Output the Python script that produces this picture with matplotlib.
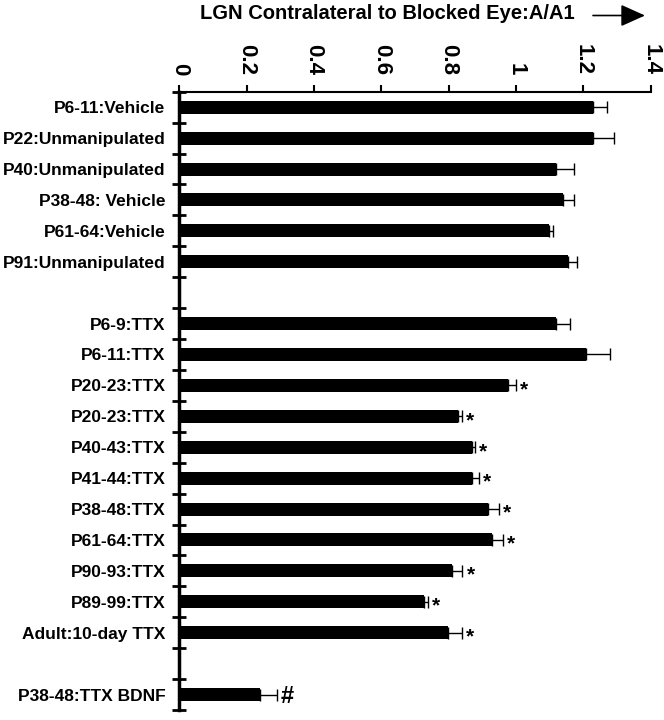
import numpy as np
import matplotlib
matplotlib.use('Agg')
import matplotlib.pyplot as plt
from matplotlib.ticker import FixedLocator

plt.rcParams['font.family'] = ['Liberation Sans', 'DejaVu Sans']
plt.rcParams['font.weight'] = 'bold'

# control groups
vehicle_labels = ['P6-11:Vehicle', 'P22:Unmanipulated', 'P40:Unmanipulated',
                  'P38-48: Vehicle', 'P61-64:Vehicle', 'P91:Unmanipulated']
vehicle_means = [1.228, 1.228, 1.118, 1.139, 1.099, 1.153]
vehicle_err = [0.042, 0.062, 0.053, 0.032, 0.010, 0.028]
vehicle_marks = ['', '', '', '', '', '']

# TTX groups
ttx_labels = ['P6-9:TTX', 'P6-11:TTX', 'P20-23:TTX', 'P20-23:TTX', 'P40-43:TTX',
              'P41-44:TTX', 'P38-48:TTX', 'P61-64:TTX', 'P90-93:TTX',
              'P89-99:TTX', 'Adult:10-day TTX']
ttx_means = [1.118, 1.208, 0.977, 0.829, 0.869, 0.869, 0.918, 0.930, 0.809, 0.728, 0.799]
ttx_err = [0.041, 0.072, 0.023, 0.011, 0.009, 0.021, 0.032, 0.031, 0.032, 0.010, 0.041]
ttx_marks = ['', '', '*', '*', '*', '*', '*', '*', '*', '*', '*']

# BDNF group
bdnf_labels = ['P38-48:TTX BDNF']
bdnf_means = [0.240]
bdnf_err = [0.049]
bdnf_marks = ['#']

xticks = [0, 0.2, 0.4, 0.6, 0.8, 1, 1.2, 1.4]
xtick_labels = ['0', '0.2', '0.4', '0.6', '0.8', '1', '1.2', '1.4']
title = 'LGN Contralateral to Blocked Eye:A/A1'

groups = [(vehicle_labels, vehicle_means, vehicle_err, vehicle_marks),
          (ttx_labels, ttx_means, ttx_err, ttx_marks),
          (bdnf_labels, bdnf_means, bdnf_err, bdnf_marks)]

# slot positions, one empty slot between groups
labels, means, errs, marks, pos = [], [], [], [], []
slot = 0
for g_labels, g_means, g_err, g_marks in groups:
    for i in range(len(g_labels)):
        labels.append(g_labels[i])
        means.append(g_means[i])
        errs.append(g_err[i])
        marks.append(g_marks[i])
        pos.append(slot)
        slot += 1
    slot += 1
nslots = slot - 1
pos = np.array(pos)

fig = plt.figure(figsize=(6.64, 7.2), dpi=100)
ax = fig.add_axes([0.270, 0.0139, 0.710, 0.8587])

ax.barh(pos, means, height=0.42, color='black',
        xerr=[np.zeros(len(means)), errs],
        error_kw=dict(ecolor='black', elinewidth=1, capsize=4.6, capthick=1))

for p, m, e, mk in zip(pos, means, errs, marks):
    if mk == '*':
        ax.annotate(mk, xy=(m + e, p), xytext=(3, -3),
                    textcoords='offset points', ha='left', va='center',
                    fontsize=15, fontweight='bold')
    elif mk:
        ax.annotate(mk, xy=(m + e, p), xytext=(3, -1.5),
                    textcoords='offset points', ha='left', va='center',
                    fontsize=17, fontweight='bold')

ax.set_xlim(0, 1.4)
ax.set_ylim(nslots - 0.5, -0.5)

ax.xaxis.tick_top()
ax.set_xticks(xticks)
ax.set_xticklabels(xtick_labels, rotation=-90, fontsize=16, fontweight='bold')
ax.tick_params(axis='x', direction='out', length=5, width=1.5, pad=7)

ax.set_yticks(pos)
ax.set_yticklabels(labels, fontsize=12.5, fontweight='bold')
ax.yaxis.set_minor_locator(FixedLocator(np.arange(-0.5, nslots, 1.0)))
ax.tick_params(axis='y', which='major', length=0, pad=10)
ax.tick_params(axis='y', which='minor', direction='inout', length=9.4, width=2)

ax.spines['right'].set_visible(False)
ax.spines['bottom'].set_visible(False)
ax.spines['left'].set_linewidth(2.5)
ax.spines['top'].set_linewidth(1.5)

fig.text(0.583, 0.9806, title, ha='center', va='center', fontsize=14.5,
         fontweight='bold')
ax.annotate('', xy=(645 / 664, 1 - 15.5 / 720), xytext=(593 / 664, 1 - 15.5 / 720),
            xycoords='figure fraction', textcoords='figure fraction',
            arrowprops=dict(arrowstyle='-|>,head_length=1.0,head_width=0.45',
                            mutation_scale=15, lw=1.2, color='black',
                            shrinkA=0, shrinkB=0))

fig.savefig('out.png', dpi=100)
